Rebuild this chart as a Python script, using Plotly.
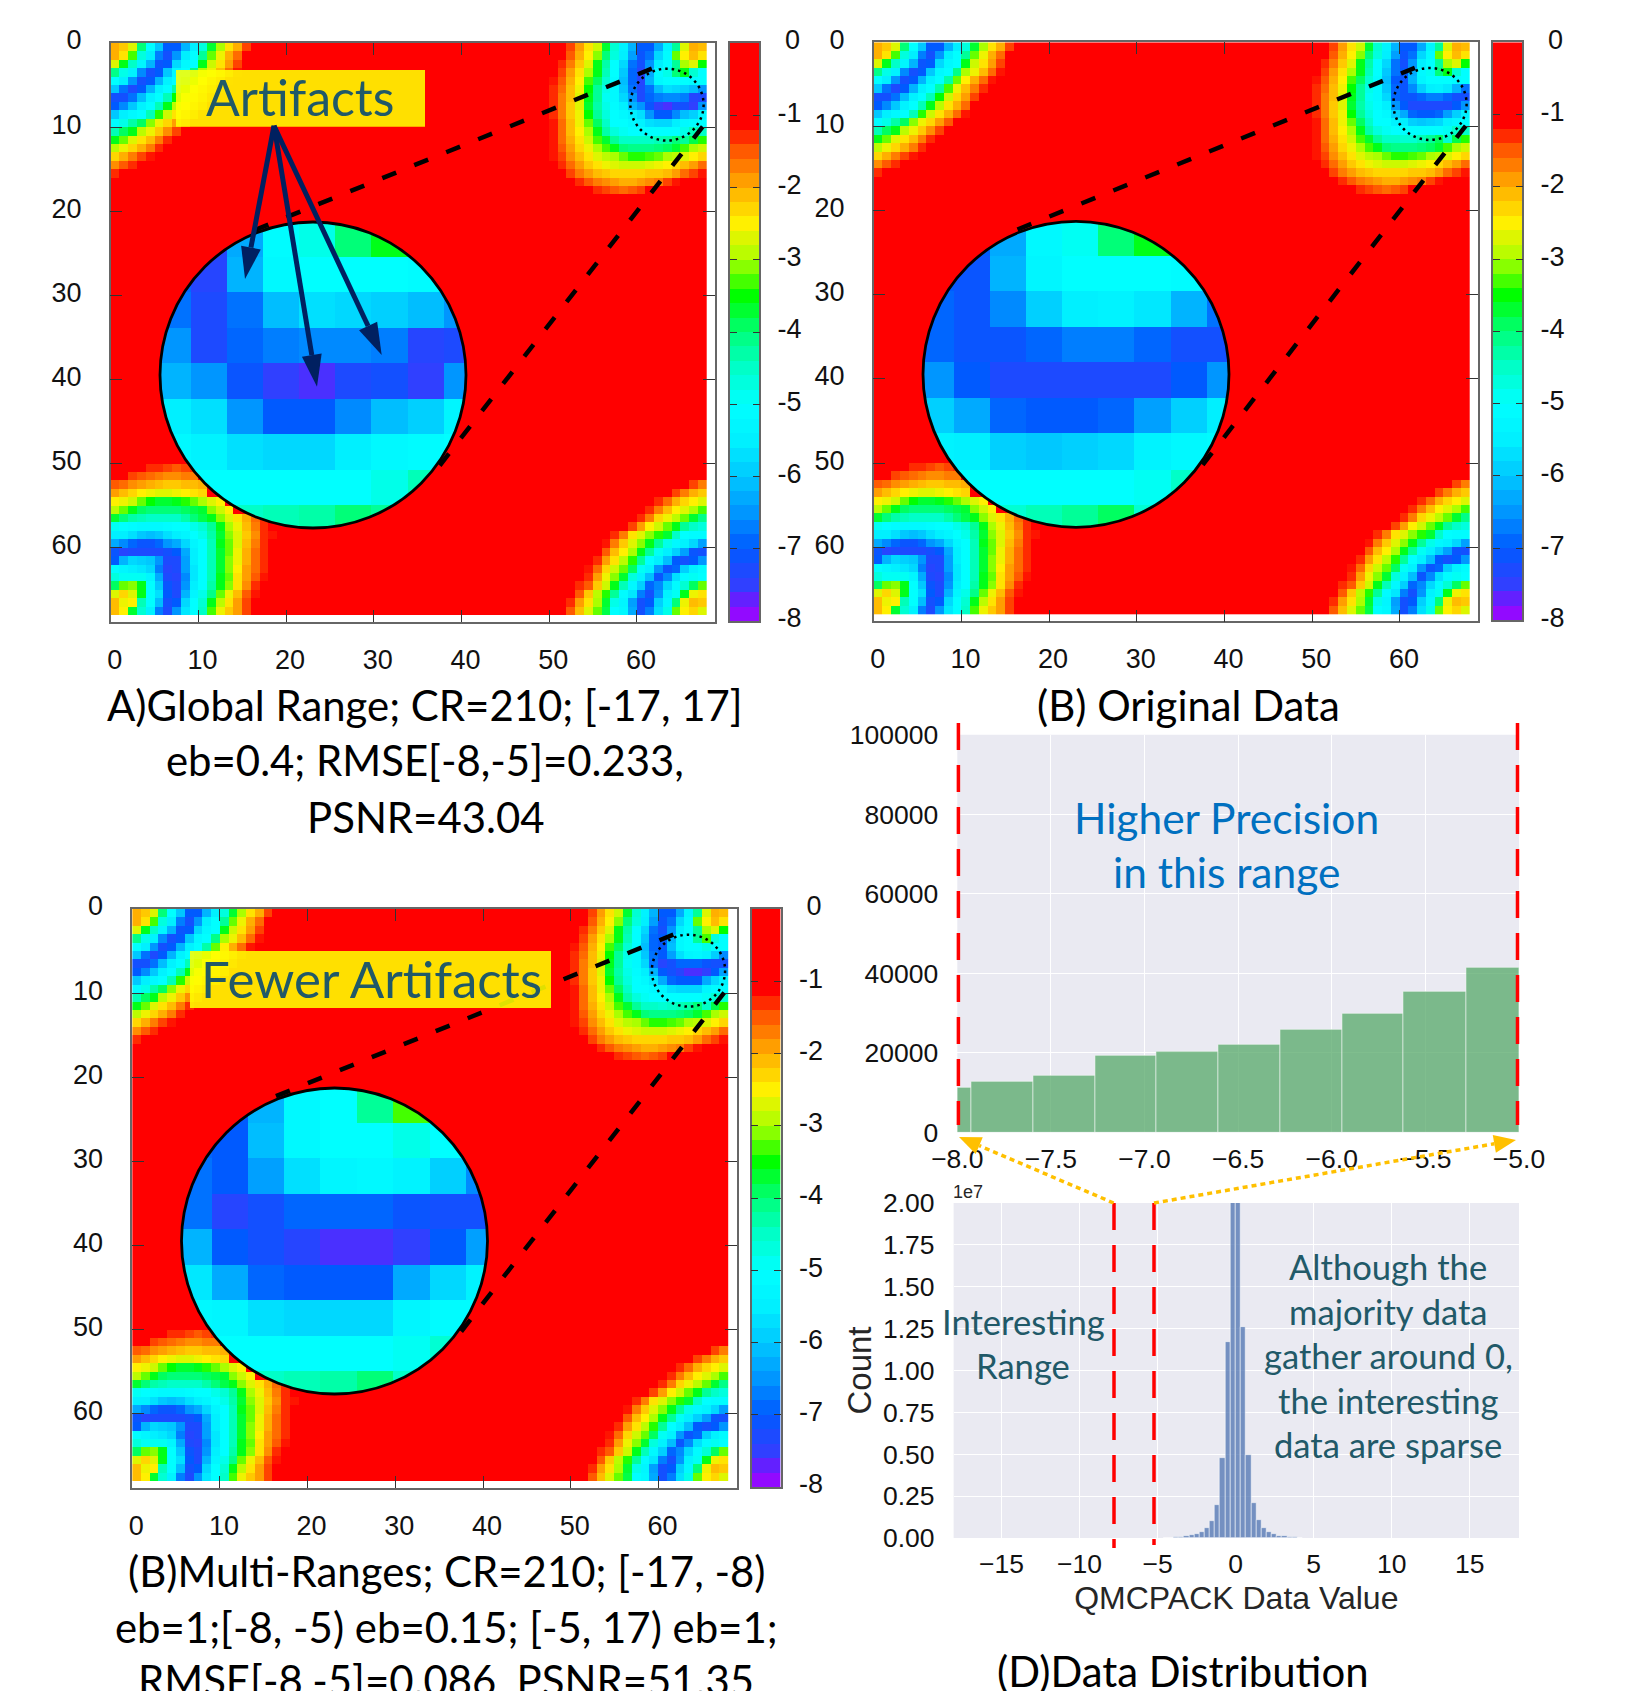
import numpy as np
import plotly.graph_objects as go

W, H = 1648, 1691
RED = -0.5

# ---------- heat-map data (log10 values) ----------
top_left_rows = [
    [-2.0,-2.2,-2.7,-4.0,-5.0,-6.0,-7.0,-7.0,-6.2,-5.5,-4.7,-3.7,-3.0,-2.4,-2.0,-1.4],
    [-2.0,-2.4,-3.3,-4.7,-5.5,-6.7,-7.2,-6.5,-5.5,-5.0,-4.2,-3.2,-2.6,-2.0,-1.6],
    [-2.7,-3.6,-4.5,-5.3,-6.2,-7.1,-7.0,-5.8,-5.2,-5.0,-3.6,-2.8,-2.4,-1.9,-1.4],
    [-4.1,-4.8,-5.4,-6.6,-7.2,-7.0,-6.0,-5.2,-5.0,-4.1,-3.0,-2.6,-2.1,-1.6,-1.2],
    [-5.0,-5.5,-6.5,-7.2,-7.0,-6.2,-5.4,-5.0,-4.3,-3.2,-2.5,-2.0,-1.6,-1.2],
    [-6.0,-6.8,-7.3,-7.0,-6.2,-5.4,-5.0,-4.3,-3.3,-2.6,-2.1,-1.7,-1.3],
    [-7.2,-7.2,-6.8,-6.1,-5.4,-5.0,-4.4,-3.5,-2.8,-2.3,-1.9,-1.4],
    [-7.0,-6.6,-6.0,-5.4,-5.0,-4.4,-3.6,-2.9,-2.4,-2.0,-1.6],
    [-6.0,-5.5,-5.2,-5.0,-4.4,-3.4,-2.8,-2.4,-2.0,-1.6,-1.2],
    [-5.1,-4.8,-4.3,-3.9,-3.1,-2.6,-2.3,-1.9,-1.5],
    [-4.4,-3.9,-3.6,-2.9,-2.6,-2.2,-1.8,-1.4],
    [-3.6,-3.2,-2.7,-2.4,-2.1,-1.7,-1.3],
    [-2.9,-2.6,-2.3,-2.0,-1.7,-1.3],
    [-2.3,-2.0,-1.7,-1.4,-1.2],
    [-1.8,-1.5,-1.3],
    [-1.3],
]
top_right_rows = [
    [-1.4,-1.9,-2.4,-2.8,-3.7,-4.6,-5.4,-6.2,-7.0,-7.0,-6.3,-5.3,-4.2,-2.7,-2.0,-2.1],
    [-1.5,-2.0,-2.5,-3.1,-4.0,-4.7,-5.5,-6.4,-7.1,-6.8,-5.8,-5.1,-3.2,-2.5,-2.1,-2.4],
    [-1.3,-1.7,-2.2,-2.7,-3.6,-4.3,-5.0,-5.8,-6.8,-7.2,-6.5,-5.5,-5.0,-4.2,-3.0,-2.7,-3.5],
    [-1.4,-1.9,-2.4,-3.0,-3.6,-4.4,-5.0,-6.0,-7.0,-7.0,-6.2,-5.4,-5.0,-5.0,-4.6,-4.4,-5.0],
    [-1.2,-1.5,-2.0,-2.5,-3.3,-3.9,-4.6,-5.1,-6.1,-7.0,-7.0,-6.2,-5.4,-5.0,-5.0,-5.0,-5.0,-5.0],
    [-1.3,-1.6,-2.1,-2.6,-3.5,-4.2,-4.8,-5.2,-6.0,-7.0,-7.0,-6.6,-6.0,-5.5,-5.4,-5.5,-6.0,-6.5],
    [-1.3,-1.7,-2.1,-2.7,-3.6,-4.2,-4.9,-5.2,-5.8,-7.0,-7.0,-7.0,-6.9,-6.7,-6.7,-6.9,-7.2,-7.2],
    [-1.3,-1.7,-2.2,-2.7,-3.7,-4.3,-4.8,-5.1,-5.5,-6.5,-7.0,-7.3,-7.3,-7.3,-7.3,-7.3,-7.0,-6.5],
    [-1.3,-1.7,-2.2,-2.6,-3.5,-4.2,-4.7,-5.0,-5.2,-5.9,-6.3,-6.9,-7.0,-7.0,-6.9,-6.4,-5.9,-5.5],
    [-1.2,-1.6,-2.1,-2.6,-3.2,-3.9,-4.5,-5.0,-5.0,-5.4,-5.5,-5.9,-6.0,-5.9,-5.8,-5.4,-5.2,-5.1],
    [-1.2,-1.6,-2.1,-2.5,-3.0,-3.6,-4.3,-4.7,-4.9,-5.0,-5.0,-5.0,-5.0,-5.0,-5.0,-4.9,-4.5,-4.5],
    [-1.2,-1.6,-2.0,-2.4,-2.8,-3.3,-3.7,-4.2,-4.5,-4.5,-4.6,-4.6,-4.4,-4.2,-3.9,-4.6,-3.8,-3.4],
    [-1.2,-1.5,-1.9,-2.3,-2.6,-3.0,-3.3,-3.6,-4.0,-4.1,-4.1,-4.1,-4.0,-3.9,-3.7,-3.3,-3.0,-2.8],
    [-1.2,-1.4,-1.8,-2.1,-2.4,-2.7,-2.9,-3.0,-3.2,-3.4,-3.4,-3.3,-3.2,-3.0,-2.9,-2.7,-2.5,-2.3],
    [-1.3,-1.6,-1.9,-2.2,-2.4,-2.6,-2.7,-2.8,-2.8,-2.8,-2.7,-2.6,-2.5,-2.3,-2.1,-1.9,-1.6],
    [-1.4,-1.7,-1.9,-2.1,-2.2,-2.3,-2.3,-2.3,-2.3,-2.2,-2.2,-2.1,-1.9,-1.6,-1.4,-1.2],
    [-1.3,-1.5,-1.7,-1.8,-1.9,-2.0,-2.0,-1.9,-1.8,-1.7,-1.4,-1.2,RED,RED,RED],
    [-1.3,-1.4,-1.5,-1.6,-1.5,-1.4,RED,RED,RED,RED,RED,RED,RED],
]
bottom_left_rows = [   # rows 50 .. 67
    [RED,RED,RED,RED,-1.3,-1.3,-1.4,-1.5,-1.4,-1.3],
    [RED,RED,-1.4,-1.5,-1.6,-1.7,-1.8,-1.8,-1.7,-1.7],
    [-1.5,-1.6,-1.8,-1.9,-2.0,-2.1,-2.2,-2.2,-2.1,-2.1,-2.0],
    [-1.9,-2.1,-2.3,-2.5,-2.6,-2.7,-2.7,-2.6,-2.5,-2.4,-2.3],
    [-2.5,-2.6,-2.8,-3.2,-3.5,-3.7,-3.7,-3.6,-3.4,-3.2,-3.0,-2.7,-2.5],
    [-2.9,-3.2,-3.6,-3.9,-4.0,-4.0,-4.0,-4.0,-3.9,-3.8,-3.7,-3.1,-2.8,-2.5],
    [-3.7,-4.0,-4.3,-4.4,-4.5,-4.5,-4.5,-4.5,-4.3,-4.0,-3.8,-3.6,-3.1,-2.7,-2.4,-2.0,-1.6,-1.3],
    [-4.9,-5.0,-5.1,-5.2,-5.2,-5.2,-5.1,-5.0,-5.0,-4.8,-4.6,-4.2,-3.6,-3.0,-2.6,-2.1,-1.7,-1.3],
    [-5.5,-5.5,-5.7,-6.0,-6.1,-6.0,-5.7,-5.5,-5.3,-5.0,-4.8,-4.3,-3.7,-3.1,-2.7,-2.2,-1.8,-1.3,-1.2],
    [-6.3,-6.6,-6.9,-7.1,-7.1,-6.9,-6.5,-6.3,-5.8,-5.3,-5.0,-4.4,-3.6,-3.2,-2.7,-2.1,-1.7,-1.3],
    [-7.1,-7.4,-7.3,-7.3,-7.3,-7.3,-7.2,-7.0,-6.3,-5.5,-5.0,-4.4,-3.7,-3.2,-2.6,-2.0,-1.6,-1.3],
    [-7.0,-6.2,-5.8,-5.9,-6.0,-6.5,-7.3,-7.3,-6.4,-5.5,-5.0,-4.4,-3.7,-3.1,-2.6,-2.0,-1.6,-1.3],
    [-5.1,-5.3,-5.5,-5.6,-5.8,-6.7,-7.4,-7.3,-6.4,-5.6,-5.0,-4.4,-3.7,-3.1,-2.5,-1.9,-1.6,-1.3],
    [-4.7,-4.9,-4.9,-4.9,-5.3,-6.3,-7.3,-7.4,-6.6,-5.6,-5.0,-4.4,-3.6,-3.2,-2.4,-1.9,-1.5,-1.2],
    [-3.9,-3.2,-3.1,-3.6,-5.0,-6.0,-7.1,-7.3,-6.5,-5.5,-5.0,-4.3,-3.6,-3.1,-2.4,-1.8,-1.3],
    [-2.7,-2.3,-2.7,-3.6,-5.0,-5.7,-7.0,-7.3,-6.2,-5.3,-4.8,-4.1,-3.2,-2.6,-2.1,-1.5,-1.2],
    [-2.1,-2.6,-2.5,-4.4,-5.0,-6.1,-7.2,-7.0,-5.8,-5.0,-4.6,-3.6,-2.9,-2.4,-1.9,-1.4],
    [-2.1,-2.5,-3.7,-4.6,-5.4,-6.7,-7.3,-6.5,-5.6,-5.0,-4.5,-3.3,-2.6,-2.2,-1.9,-1.4],
]
bottom_right_rows = [   # rows 52 .. 67, right aligned
    [-1.4,-1.7],
    [-1.4,-1.7,-2.0,-2.2],
    [-1.3,-1.6,-2.0,-2.3,-2.5,-2.7],
    [-1.3,-1.7,-2.1,-2.5,-2.7,-3.0,-3.3],
    [-1.3,-1.7,-2.3,-2.6,-2.9,-3.2,-3.7,-4.1],
    [-1.4,-1.9,-2.5,-2.8,-3.2,-3.6,-4.2,-4.5,-4.7],
    [-1.3,-1.7,-2.4,-2.7,-3.1,-3.4,-3.7,-4.5,-5.0,-5.1,-5.1],
    [-1.2,-1.7,-2.2,-2.7,-3.1,-3.6,-4.2,-4.8,-5.2,-5.4,-5.8,-6.4],
    [-1.5,-2.1,-2.5,-3.0,-3.6,-4.2,-4.9,-5.5,-5.9,-6.4,-7.1,-7.2],
    [-1.3,-1.9,-2.4,-2.9,-3.4,-4.2,-5.0,-5.5,-6.1,-7.0,-7.2,-7.0,-6.5],
    [-1.2,-1.6,-2.3,-2.8,-3.2,-3.9,-4.9,-5.4,-6.5,-7.1,-6.9,-5.9,-5.4,-5.1],
    [-1.3,-1.9,-2.6,-3.1,-3.7,-4.7,-5.4,-6.1,-7.1,-6.6,-5.7,-5.1,-4.9,-5.0],
    [-1.3,-1.5,-2.2,-2.8,-3.6,-4.4,-5.2,-5.9,-6.9,-6.6,-5.8,-5.1,-4.6,-3.9,-3.2],
    [-1.5,-2.2,-2.9,-3.4,-4.2,-5.1,-5.6,-6.7,-7.2,-6.5,-5.4,-4.9,-3.6,-2.6,-2.4],
    [-1.3,-1.9,-2.4,-3.0,-3.7,-4.8,-5.3,-6.4,-7.2,-7.0,-5.9,-5.2,-4.0,-2.6,-2.1,-2.2],
    [-1.5,-2.1,-2.7,-3.2,-3.8,-5.0,-5.2,-6.3,-7.2,-6.7,-5.7,-4.8,-3.2,-2.5,-2.3,-2.7],
]
# Zoomed cells: rows 3..11, columns 59..67
inset_A = [
    [-6.9,-7.4,-6.3,-5.1,-4.8,-4.0,-3.6,-4.6,-5.0],
    [-6.9,-7.4,-6.2,-5.2,-5.0,-5.0,-5.0,-5.1,-5.0],
    [-6.8,-7.3,-6.8,-6.1,-5.7,-5.8,-5.9,-6.1,-6.5],
    [-6.5,-7.3,-6.9,-6.7,-6.6,-6.6,-6.7,-7.4,-7.3],
    [-6.2,-6.5,-7.1,-7.5,-7.6,-7.3,-7.2,-7.5,-6.5],
    [-5.5,-5.7,-6.5,-7.0,-7.0,-6.6,-6.1,-5.9,-5.3],
    [-5.2,-5.4,-5.7,-5.8,-5.8,-5.5,-5.2,-5.1,-5.0],
    [-5.0,-5.0,-5.0,-5.0,-5.0,-5.0,-4.8,-4.4,-4.5],
    [-4.5,-4.5,-4.5,-4.4,-4.3,-4.0,-4.2,-3.8,-3.4],
]
inset_B = [
    [-6.8,-7.0,-6.3,-5.2,-4.9,-4.0,-3.6,-4.6,-5.0],
    [-7.0,-7.1,-6.2,-5.3,-5.0,-5.0,-5.0,-5.1,-5.0],
    [-6.9,-7.1,-6.6,-5.9,-5.5,-5.4,-5.6,-6.2,-6.8],
    [-6.9,-7.1,-7.1,-6.9,-6.7,-6.7,-6.9,-7.2,-7.2],
    [-6.5,-7.0,-7.3,-7.3,-7.3,-7.3,-7.3,-7.0,-6.5],
    [-5.9,-6.3,-6.9,-7.0,-7.0,-6.9,-6.4,-5.9,-5.5],
    [-5.4,-5.5,-5.9,-6.0,-5.9,-5.8,-5.4,-5.2,-5.1],
    [-5.0,-5.0,-5.0,-5.0,-5.0,-5.0,-4.9,-4.5,-4.5],
    [-4.5,-4.6,-4.6,-4.4,-4.2,-3.9,-4.6,-3.8,-3.4],
]
inset_C = [
    [-6.9,-7.0,-6.2,-5.2,-5.0,-4.2,-3.3,-4.7,-5.0],
    [-6.9,-7.0,-6.1,-5.2,-5.0,-5.0,-4.8,-5.0,-5.0],
    [-6.8,-7.0,-6.4,-5.7,-5.3,-5.2,-5.4,-5.9,-6.6],
    [-6.8,-7.4,-7.2,-6.9,-6.9,-6.9,-7.1,-7.2,-7.2],
    [-6.2,-7.0,-7.2,-7.4,-7.6,-7.6,-7.5,-7.0,-6.4],
    [-5.6,-6.3,-6.9,-7.0,-7.0,-7.0,-6.3,-5.8,-5.4],
    [-5.2,-5.3,-5.7,-5.8,-5.8,-5.8,-5.3,-5.1,-5.1],
    [-5.0,-5.0,-5.0,-5.0,-5.0,-5.0,-4.9,-4.6,-4.6],
    [-4.5,-4.6,-4.5,-4.4,-4.3,-4.0,-4.5,-3.8,-3.4],
]
palette_levels = [-7.9,-7.7,-7.5,-7.3,-7.1,-6.9,-6.7,-6.5,-6.3,-6.1,-5.9,-5.7,-5.5,-5.3,-5.1,-4.9,
                  -4.7,-4.5,-4.3,-4.1,-3.9,-3.7,-3.5,-3.3,-3.1,-2.9,-2.7,-2.5,-2.3,-2.1,-1.9,-1.7,
                  -1.5,-1.3,-1.1,-0.9,-0.7,-0.5,-0.3,-0.1]
palette_stops = [(-8.0,"#A800FF"),(-7.75,"#7018FF"),(-7.5,"#3040FF"),(-7.0,"#005AFF"),(-6.5,"#0096FF"),(-6.0,"#00C8FF"),
                 (-5.5,"#00F0FF"),(-5.0,"#00FFFF"),(-4.5,"#00FFC8"),(-4.0,"#00FF78"),(-3.5,"#00FF00"),
                 (-3.0,"#AAFF00"),(-2.5,"#FFF000"),(-2.0,"#FFAF00"),(-1.5,"#FF5A00"),(-1.2,"#FF1400"),
                 (-1.1,"#FF0000"),(0.0,"#FF0000")]

# ---------- histogram data ----------
top_edges = [-8.0,-7.925,-7.595,-7.264,-6.935,-6.606,-6.275,-5.945,-5.616,-5.284,-5.0]
top_counts = [11230,12740,14170,19360,20370,22130,25900,29760,35460,41320]
bottom_centers = [-4.46,-4.13,-3.80,-3.47,-3.14,-2.81,-2.48,-2.15,-1.82,-1.49,-1.16,-0.83,-0.50,-0.16,
                  0.17,0.50,0.83,1.16,1.49,1.82,2.15,2.48,2.81,3.14,3.47,3.80,4.13]
bottom_counts = [15000,25000,40000,80000,120000,180000,240000,340000,580000,1010000,2000000,4800000,11700000,
                 22000000,23000000,12600000,4950000,2070000,1070000,580000,380000,220000,140000,100000,60000,40000,20000]

hist_x_ticks_top = [-8.0,-7.5,-7.0,-6.5,-6.0,-5.5,-5.0]
hist_x_ticks_bottom = [-15,-10,-5,0,5,10,15]
hist_y_ticks_top = [0,20000,40000,60000,80000,100000]
hist_y_ticks_bottom = [0,0.25e7,0.5e7,0.75e7,1e7,1.25e7,1.5e7,1.75e7,2e7]

TICK = "Liberation Sans"
CAP = "Lato"
TEAL = "#215968"
NAVY = "#002060"
GOLD = "#FFC000"

def fx(x): return x / W
def fy(y): return 1 - y / H
def grid(inset):
    z = [[RED] * 68 for _ in range(68)]
    for r, row in enumerate(top_left_rows):
        for c, v in enumerate(row): z[r][c] = v
    for r, row in enumerate(top_right_rows):
        for c, v in enumerate(row): z[r][68 - len(row) + c] = v
    for r, row in enumerate(bottom_left_rows):
        for c, v in enumerate(row): z[50 + r][c] = v
    for r, row in enumerate(bottom_right_rows):
        for c, v in enumerate(row): z[52 + r][68 - len(row) + c] = v
    for r, row in enumerate(inset):
        for c, v in enumerate(row): z[3 + r][59 + c] = v
    return z

colorscale = [[(v + 8) / 8, c] for v, c in palette_stops]
fig = go.Figure()
shapes, notes = [], []
layout = {}

def tick_font(size=27): return dict(family=TICK, size=size, color="#111111")

def note(text, x, y, size, color="black", family=CAP, **kw):
    notes.append(dict(text=text, x=fx(x), y=fy(y), xref="paper", yref="paper", showarrow=False,
                      xanchor="center", yanchor="middle", font=dict(family=family, size=size, color=color), **kw))

def arrow(tail, tip, color, width, head_len, head_w, dash="solid"):
    (x0, y0), (x1, y1) = tail, tip
    L = np.hypot(x1 - x0, y1 - y0); ux, uy = (x1 - x0) / L, (y1 - y0) / L
    bx, by = x1 - ux * head_len, y1 - uy * head_len
    shapes.append(dict(type="line", xref="paper", yref="paper", x0=fx(x0), y0=fy(y0), x1=fx(bx), y1=fy(by),
                       line=dict(color=color, width=width, dash=dash), layer="above"))
    pts = [(x1, y1), (bx - uy * head_w / 2, by + ux * head_w / 2), (bx + uy * head_w / 2, by - ux * head_w / 2)]
    path = "M " + " L ".join(f"{fx(a):.5f} {fy(b):.5f}" for a, b in pts) + " Z"
    shapes.append(dict(type="path", xref="paper", yref="paper", path=path, fillcolor=color,
                       line=dict(color=color, width=0), layer="above"))

def panel(k, dx, dy, inset):
    ids = [3 * k + 1, 3 * k + 2, 3 * k + 3]
    xa, ya = [f"x{i}" for i in ids], [f"y{i}" for i in ids]
    left, top = 110.7 + dx, 43 + dy
    # main map
    fig.add_trace(go.Heatmap(z=grid(inset), x0=0.5, dx=1, y0=0.5, dy=1, zmin=-8, zmax=0, colorscale=colorscale,
                             showscale=False, xaxis=xa[0], yaxis=ya[0]))
    # dashed connectors and the dotted source circle
    for xs, ys in (([61.7, 14.37], [3.04, 23.1]), ([67.5, 36.4], [9.93, 51.7])):
        fig.add_trace(go.Scatter(x=xs, y=ys, mode="lines", showlegend=False, xaxis=xa[0], yaxis=ya[0],
                                 line=dict(color="black", width=4.5, dash="15px,19.5px")))
    shapes.append(dict(type="circle", xref=xa[0], yref=ya[0], x0=59.25, x1=67.6, y0=3.05, y1=11.6,
                       line=dict(color="black", width=2.5, dash="2.5px,4px"), layer="above"))
    common = dict(showgrid=False, zeroline=False, showline=True, linecolor="#666666", linewidth=1.5, mirror="ticks",
                  ticks="inside", ticklen=12, tickcolor="#333333", tickwidth=1.2, tickfont=tick_font(),
                  tickmode="array", tickvals=[0, 10, 20, 30, 40, 50, 60])
    layout[f"xaxis{ids[0]}"] = dict(common, domain=[fx(left), fx(left + 604.3)], range=[0, 68.9], anchor=ya[0],
                                    ticklabelstandoff=13, ticklabelshift=4)
    layout[f"yaxis{ids[0]}"] = dict(common, domain=[fy(top + 579), fy(top)], range=[68.8, 0], anchor=xa[0],
                                    ticklabelstandoff=22, ticklabelshift=3)
    # magnified circle: a fine grid of the same cells, blanked outside the circle
    ix0, iy0 = left + 49.3, top + 179
    xs = np.linspace(59.17, 67.6, 306); ys = np.linspace(3.04, 11.62, 306)
    X, Y = np.meshgrid(xs, ys)
    arr = np.array(inset, dtype=float)
    Z = arr[np.clip(Y.astype(int) - 3, 0, 8), np.clip(X.astype(int) - 59, 0, 8)]
    Z[((X - 63.385) / 4.215) ** 2 + ((Y - 7.33) / 4.29) ** 2 > 1] = np.nan
    fig.add_trace(go.Heatmap(z=Z, x=xs, y=ys, zmin=-8, zmax=0, colorscale=colorscale, showscale=False,
                             hoverongaps=False, xaxis=xa[1], yaxis=ya[1]))
    hidden = dict(visible=False, showgrid=False, zeroline=False)
    layout[f"xaxis{ids[1]}"] = dict(hidden, domain=[fx(ix0), fx(ix0 + 306)], range=[59.17, 67.6], anchor=ya[1])
    layout[f"yaxis{ids[1]}"] = dict(hidden, domain=[fy(iy0 + 306), fy(iy0)], range=[11.62, 3.04], anchor=xa[1])
    shapes.append(dict(type="circle", xref="paper", yref="paper", x0=fx(ix0), x1=fx(ix0 + 306), y0=fy(iy0 + 306),
                       y1=fy(iy0), line=dict(color="black", width=2.8), layer="above"))
    # palette bar
    fig.add_trace(go.Heatmap(z=[[v] for v in palette_levels], x=[0], y=palette_levels, zmin=-8, zmax=0,
                             colorscale=colorscale, showscale=False, xaxis=xa[2], yaxis=ya[2]))
    layout[f"xaxis{ids[2]}"] = dict(domain=[fx(left + 619.3), fx(left + 648.6)], range=[-0.5, 0.5], anchor=ya[2],
                                    showgrid=False, zeroline=False, showticklabels=False, ticks="", showline=True,
                                    linecolor="#666666", linewidth=1.5, mirror=True)
    layout[f"yaxis{ids[2]}"] = dict(domain=[fy(top + 578), fy(top)], range=[-8, 0], anchor=xa[2], side="right",
                                    showgrid=False, zeroline=False, showline=True, linecolor="#666666", linewidth=1.5,
                                    mirror="ticks", ticks="inside", ticklen=7, tickcolor="#333333", tickwidth=1.2,
                                    tickfont=tick_font(), tickmode="array", tickvals=[-8, -7, -6, -5, -4, -3, -2, -1, 0],
                                    ticktext=["-8", "-7", "-6", "-5", "-4", "-3", "-2", "-1", "\u00a00"],
                                    ticklabelstandoff=11, ticklabelshift=-3)

panel(0, 0, 0, inset_A)
panel(1, 763, -0.7, inset_B)
panel(2, 21.5, 866, inset_C)

# ---------- histograms ----------
bar_line = dict(color="rgba(255,255,255,0.75)", width=0.7)
fig.add_trace(go.Bar(x=[(a + b) / 2 for a, b in zip(top_edges[:-1], top_edges[1:])], y=top_counts,
                     width=[b - a for a, b in zip(top_edges[:-1], top_edges[1:])],
                     marker=dict(color="rgba(85,168,104,0.75)", line=bar_line), showlegend=False, xaxis="x10", yaxis="y10"))
fig.add_trace(go.Bar(x=bottom_centers, y=bottom_counts, width=0.3305,
                     marker=dict(color="rgba(76,114,176,0.75)", line=bar_line), showlegend=False, xaxis="x11", yaxis="y11"))
hist = dict(showline=False, zeroline=False, showgrid=True, gridcolor="white", gridwidth=1.4, ticks="",
            tickfont=tick_font(26.5), tickmode="array", color="#262626")
layout["xaxis10"] = dict(hist, domain=[fx(957.3), fx(1519)], range=[-8, -5], anchor="y10", tickvals=hist_x_ticks_top,
                         ticktext=["\u22128.0", "\u22127.5", "\u22127.0", "\u22126.5", "\u22126.0", "\u22125.5", "\u22125.0"],
                         ticklabelstandoff=8)
layout["yaxis10"] = dict(hist, domain=[fy(1132.3), fy(734.7)], range=[0, 100000], anchor="x10", tickvals=hist_y_ticks_top,
                         ticktext=[str(v) for v in hist_y_ticks_top], ticklabelstandoff=18)
layout["xaxis11"] = dict(hist, domain=[fx(953.6), fx(1519)], range=[-18.07, 18.16], anchor="y11", tickvals=hist_x_ticks_bottom,
                         ticktext=["\u221215", "\u221210", "\u22125", "0", "5", "10", "15"], ticklabelstandoff=7,
                         title=dict(text="QMCPACK Data Value", font=dict(family=TICK, size=32, color="#262626"), standoff=9))
layout["yaxis11"] = dict(hist, domain=[fy(1538), fy(1203)], range=[0, 2e7], anchor="x11", tickvals=hist_y_ticks_bottom,
                         ticktext=["0.00", "0.25", "0.50", "0.75", "1.00", "1.25", "1.50", "1.75", "2.00"], ticklabelstandoff=18,
                         title=dict(text="Count", font=dict(family=TICK, size=33, color="#262626"), standoff=1))
for (a, b, c, d) in ((957.3, 1519, 734.7, 1132.3), (953.6, 1519, 1203, 1538)):
    shapes.append(dict(type="rect", xref="paper", yref="paper", x0=fx(a), x1=fx(b), y0=fy(d), y1=fy(c),
                       fillcolor="#EAEAF2", line=dict(width=0), layer="below"))
for x, y0, y1 in ((958.4, 723, 1125), (1517.5, 723, 1125), (1114, 1203, 1548), (1154, 1203, 1545)):
    shapes.append(dict(type="line", xref="paper", yref="paper", x0=fx(x), x1=fx(x), y0=fy(y0), y1=fy(y1),
                       line=dict(color="#FF0000", width=3.5, dash="27px,15px"), layer="above"))
arrow((1113.6, 1203), (959, 1137), GOLD, 3.5, 22, 18, dash="5px,4px")
arrow((1154, 1203), (1516, 1140), GOLD, 3.5, 22, 18, dash="5px,4px")

# ---------- label boxes and arrows ----------
shapes.append(dict(type="rect", xref="paper", yref="paper", x0=fx(176), x1=fx(425), y0=fy(126.7), y1=fy(70),
                   fillcolor="rgba(255,255,0,0.88)", line=dict(width=0), layer="above"))
shapes.append(dict(type="rect", xref="paper", yref="paper", x0=fx(190), x1=fx(551), y0=fy(1008), y1=fy(951),
                   fillcolor="rgba(255,255,0,0.88)", line=dict(width=0), layer="above"))
tail = (274, 125.7)
arrow(tail, (245, 279), NAVY, 5, 32, 20)
arrow(tail, (317, 386.7), NAVY, 5, 32, 20)
arrow(tail, (381.7, 355), NAVY, 5, 32, 20)

CAPTION = 41.9
BODY = 34.6
note("Artifacts", 300, 97, 50, TEAL)
note("Fewer Artifacts", 371, 978, 51, TEAL)
note("A)Global Range; CR=210; [-17, 17]", 425, 705, CAPTION)
note("eb=0.4; RMSE[-8,-5]=0.233,", 425, 760, CAPTION)
note("PSNR=43.04", 425, 816.5, CAPTION)
note("(B) Original Data", 1188.5, 705, CAPTION)
note("(B)Multi-Ranges; CR=210; [-17, -8)", 446.5, 1571, CAPTION)
note("eb=1;[-8, -5) eb=0.15; [-5, 17) eb=1;", 446.5, 1627, CAPTION)
note("RMSE[-8,-5]=0.086, PSNR=51.35", 446.5, 1680, CAPTION)
note("(D)Data Distribution", 1183, 1671, CAPTION)
note("Higher Precision", 1226.6, 817, 42.5, "#0070C0")
note("in this range", 1226.6, 871, 42.5, "#0070C0")
note("Interesting", 1023, 1321, BODY, TEAL)
note("Range", 1023, 1365, BODY, TEAL)
note("Although the", 1388, 1266, BODY, TEAL)
note("majority data", 1388, 1311, BODY, TEAL)
note("gather around 0,", 1388, 1355, BODY, TEAL)
note("the interesting", 1388, 1400, BODY, TEAL)
note("data are sparse", 1388, 1444, BODY, TEAL)
note("1e7", 968, 1192, 18, "#262626", TICK)

fig.update_layout(template="none", width=W, height=H, autosize=False, margin=dict(l=0, r=0, t=0, b=0), paper_bgcolor="white",
                  plot_bgcolor="rgba(0,0,0,0)", showlegend=False, shapes=shapes, annotations=notes, bargap=0, **layout)
fig.write_html("out.html", config={"displayModeBar": False}, post_script="document.body.style.margin='0';")
